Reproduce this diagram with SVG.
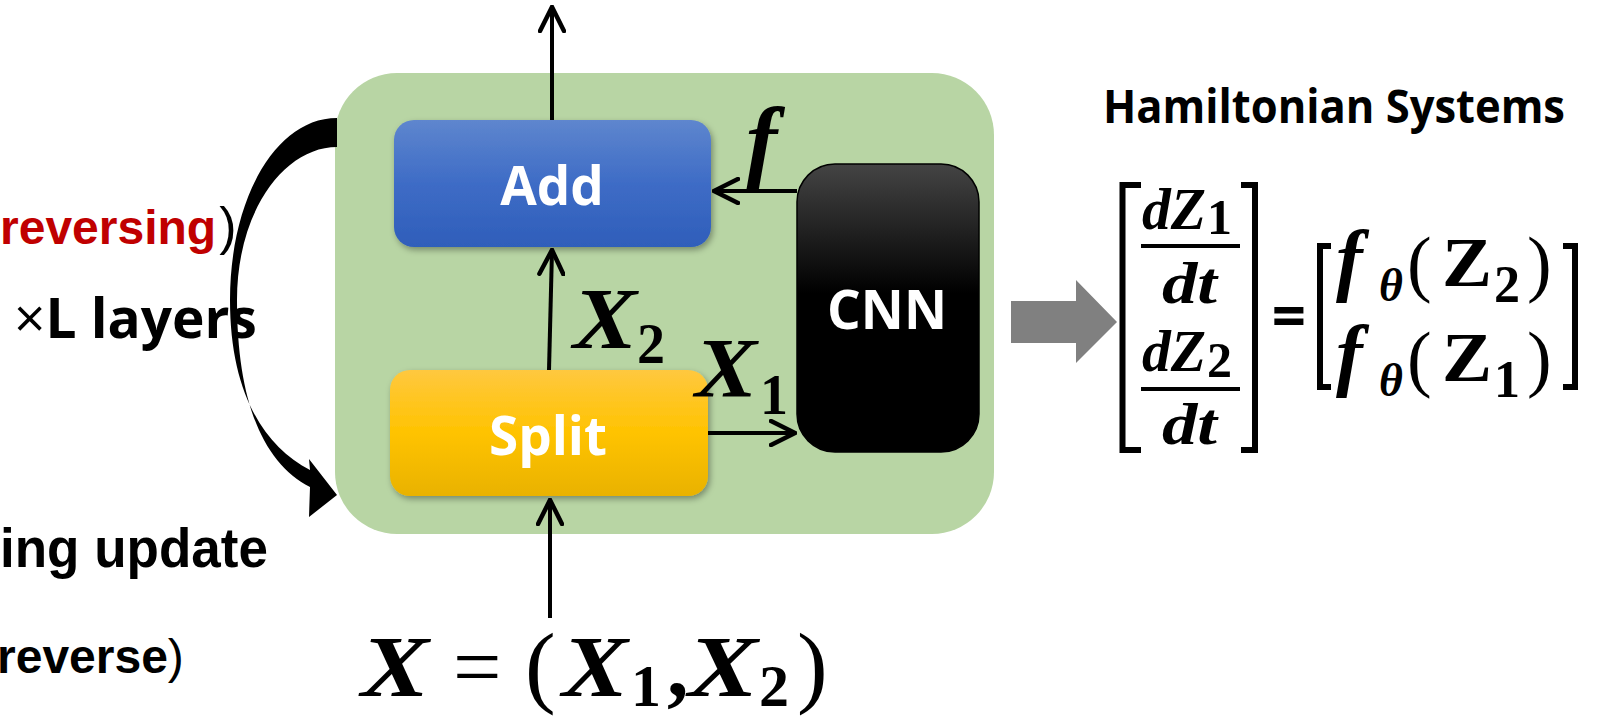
<svg xmlns="http://www.w3.org/2000/svg" width="1604" height="716" viewBox="0 0 1604 716">
  <defs>
    <linearGradient id="gBlue" x1="0" y1="0" x2="0" y2="1">
      <stop offset="0" stop-color="#5E86CE"/>
      <stop offset="0.5" stop-color="#3E6CC6"/>
      <stop offset="1" stop-color="#2F5EBA"/>
    </linearGradient>
    <linearGradient id="gGold" x1="0" y1="0" x2="0" y2="1">
      <stop offset="0" stop-color="#FFC83F"/>
      <stop offset="0.5" stop-color="#FFC300"/>
      <stop offset="1" stop-color="#E9B200"/>
    </linearGradient>
    <linearGradient id="gBlack" x1="0" y1="0" x2="0" y2="1">
      <stop offset="0" stop-color="#444444"/>
      <stop offset="0.45" stop-color="#000000"/>
      <stop offset="1" stop-color="#000000"/>
    </linearGradient>
    <filter id="shadow" x="-10%" y="-10%" width="125%" height="130%">
      <feDropShadow dx="2" dy="3" stdDeviation="3" flood-color="#000" flood-opacity="0.35"/>
    </filter>
    <marker id="open" viewBox="0 0 28 28" refX="26" refY="14" markerWidth="28" markerHeight="28" markerUnits="userSpaceOnUse" orient="auto">
      <path d="M2,2 L26,14 L2,26" fill="none" stroke="#000" stroke-width="4.5" stroke-linecap="round" stroke-linejoin="miter"/>
    </marker>
  </defs>
  <style>
    .lbl { font-family: "Open Sans", "Liberation Sans", sans-serif; font-weight: 700; fill: #fff; text-anchor: middle; }
    .ar { font-family: "Liberation Sans", Arial, sans-serif; font-weight: 700; fill: #000; }
    .os { font-family: "Open Sans", "Liberation Sans", sans-serif; font-weight: 700; fill: #000; }
    .m { font-family: "Liberation Serif", "Times New Roman", serif; fill: #000; }
    .bi { font-weight: 700; font-style: italic; }
    .b { font-weight: 700; }
    .i { font-style: italic; }
    .line { stroke: #000; stroke-width: 4; fill: none; }
    .brk { stroke: #000; stroke-width: 6; fill: none; stroke-linejoin: miter; }
  </style>

  <rect width="1604" height="716" fill="#fff"/>

  <!-- side captions -->
  <g id="captions">
    <text class="ar" x="0" y="244" font-size="48"><tspan fill="#C00000">reversing</tspan><tspan font-weight="400" font-size="52" dx="3">)</tspan></text>
    <text class="os" x="14" y="338" font-size="55"><tspan font-weight="400">×</tspan>L layers</text>
    <text class="ar" x="0" y="567" font-size="56" textLength="268" lengthAdjust="spacingAndGlyphs">ing update</text>
    <text class="ar" x="-3" y="673" font-size="48">reverse<tspan font-weight="400">)</tspan></text>
  </g>

  <!-- layer block -->
  <g id="layer">
    <rect x="335" y="73" width="659" height="461" rx="62" fill="#B8D5A4"/>
  </g>

  <!-- repeat-over-layers arrow -->
  <g id="loop">
    <path d="M337,118 C275,118 230,200 230,300 C230,390 262,445 310,470 L309,459 L337,495 L309,517 L310,487 C262,462 237,400 237,300 C237,210 285,147 337,147 Z" fill="#000"/>
  </g>

  <g id="add">
    <rect x="394" y="120" width="317" height="127" rx="20" fill="url(#gBlue)" filter="url(#shadow)"/>
    <text class="lbl" x="552" y="205" font-size="53">Add</text>
  </g>

  <g id="split">
    <rect x="390" y="370" width="318" height="126" rx="20" fill="url(#gGold)" filter="url(#shadow)"/>
    <text class="lbl" x="548" y="455" font-size="53">Split</text>
  </g>

  <g id="cnn">
    <rect x="797" y="164" width="182" height="288" rx="38" fill="url(#gBlack)" stroke="#000" stroke-width="1.5"/>
    <text class="lbl" x="887" y="329" font-size="53">CNN</text>
  </g>

  <!-- connectors -->
  <g id="connectors">
    <line class="line" x1="552" y1="120" x2="552" y2="7" marker-end="url(#open)"/>
    <line class="line" x1="549" y1="370" x2="552" y2="250" marker-end="url(#open)"/>
    <line class="line" x1="550" y1="618" x2="550" y2="500" marker-end="url(#open)"/>
    <line class="line" x1="797" y1="191" x2="714" y2="191" marker-end="url(#open)"/>
    <line class="line" x1="708" y1="433" x2="795" y2="433" marker-end="url(#open)"/>
  </g>

  <!-- connector labels -->
  <g id="edge-labels">
    <text class="m bi" x="746" y="172" font-size="94">f</text>
    <text class="m bi" x="573" y="348" font-size="86" textLength="64" lengthAdjust="spacingAndGlyphs">X</text>
    <text class="m b" x="637" y="363" font-size="56">2</text>
    <text class="m bi" x="695" y="397" font-size="84" textLength="62" lengthAdjust="spacingAndGlyphs">X</text>
    <text class="m b" x="760" y="414" font-size="56">1</text>
  </g>

  <!-- input formula -->
  <g id="input">
    <text class="m bi" x="361" y="696" font-size="86" textLength="68" lengthAdjust="spacingAndGlyphs">X</text>
    <text class="m" x="453" y="696" font-size="86">=</text>
    <text class="m" x="525" y="696" font-size="92">(</text>
    <text class="m bi" x="562" y="696" font-size="86" textLength="66" lengthAdjust="spacingAndGlyphs">X</text>
    <text class="m b" x="631" y="706" font-size="60">1</text>
    <text class="m b" x="667" y="696" font-size="86">,</text>
    <text class="m bi" x="688" y="696" font-size="86" textLength="70" lengthAdjust="spacingAndGlyphs">X</text>
    <text class="m b" x="759" y="706" font-size="60">2</text>
    <text class="m" x="797" y="696" font-size="92">)</text>
  </g>

  <!-- Hamiltonian system -->
  <g id="hamiltonian">
    <text class="os" x="1103" y="123" font-size="46" textLength="462" lengthAdjust="spacingAndGlyphs">Hamiltonian Systems</text>
    <polygon points="1011,301 1076,301 1076,280 1117,322 1076,363 1076,343 1011,343" fill="#808080"/>

    <!-- left column vector -->
    <polyline class="brk" points="1141,185 1122.5,185 1122.5,450 1141,450"/>
    <polyline class="brk" points="1241,185 1255,185 1255,450 1241,450"/>
    <text class="m bi" x="1142" y="229" font-size="60" textLength="64" lengthAdjust="spacingAndGlyphs">dZ</text>
    <text class="m b" x="1207" y="234" font-size="50">1</text>
    <line x1="1141" y1="246" x2="1240" y2="246" stroke="#000" stroke-width="4"/>
    <text class="m bi" x="1162" y="303" font-size="60" textLength="55" lengthAdjust="spacingAndGlyphs">dt</text>
    <text class="m bi" x="1142" y="371" font-size="60" textLength="64" lengthAdjust="spacingAndGlyphs">dZ</text>
    <text class="m b" x="1207" y="377" font-size="50">2</text>
    <line x1="1141" y1="389" x2="1240" y2="389" stroke="#000" stroke-width="4"/>
    <text class="m bi" x="1162" y="444" font-size="60" textLength="55" lengthAdjust="spacingAndGlyphs">dt</text>

    <text class="os" x="1289" y="337" font-size="60" text-anchor="middle">=</text>

    <!-- right column vector -->
    <polyline class="brk" points="1331,246 1320,246 1320,387 1331,387"/>
    <polyline class="brk" points="1563,246 1575,246 1575,387 1563,387"/>
    <text class="m bi" x="1336" y="286" font-size="80">f</text>
    <text class="m bi" x="1379" y="301" font-size="46">θ</text>
    <text class="m" x="1407" y="288" font-size="74">(</text>
    <text class="m b" x="1442" y="286" font-size="70" textLength="50" lengthAdjust="spacingAndGlyphs">Z</text>
    <text class="m b" x="1494" y="302" font-size="52">2</text>
    <text class="m" x="1527" y="288" font-size="74">)</text>
    <text class="m bi" x="1336" y="381" font-size="80">f</text>
    <text class="m bi" x="1379" y="396" font-size="46">θ</text>
    <text class="m" x="1407" y="383" font-size="74">(</text>
    <text class="m b" x="1442" y="381" font-size="70" textLength="50" lengthAdjust="spacingAndGlyphs">Z</text>
    <text class="m b" x="1494" y="397" font-size="52">1</text>
    <text class="m" x="1527" y="383" font-size="74">)</text>
  </g>
</svg>
